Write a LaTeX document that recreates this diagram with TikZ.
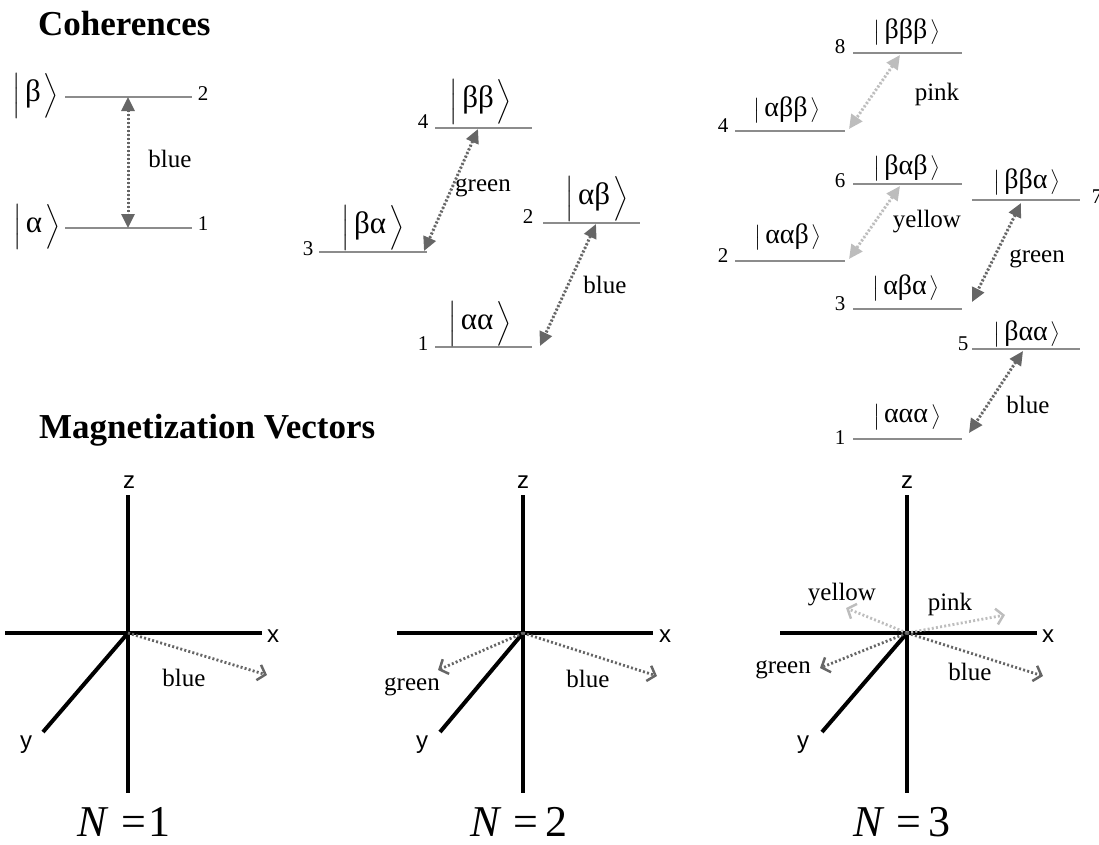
\RequirePackage{fix-cm}
\documentclass[tikz,border=0pt]{standalone}
\usepackage{amsmath}
\usepackage{fontspec}
\setmainfont{Liberation Serif}
\newfontfamily\axfont{Liberation Sans}
\usetikzlibrary{arrows.meta}
\definecolor{levelgray}{HTML}{8C8C8C}
\definecolor{arrdark}{HTML}{666666}
\definecolor{arrlight}{HTML}{BDBDBD}
\newcommand{\ketA}[1]{\mbox{\fontsize{23}{25}\selectfont$\Bigl|$}\hspace{4pt}\mbox{\fontsize{31}{33}\selectfont #1}\hspace{3pt}\mbox{\fontsize{23}{25}\selectfont$\Bigr\rangle$}}
\newcommand{\ketB}[1]{\mbox{\fontsize{22}{24}\selectfont$\bigl|$}\hspace{4pt}\mbox{\fontsize{28}{30}\selectfont #1}\hspace{3pt}\mbox{\fontsize{22}{24}\selectfont$\bigr\rangle$}}
\tikzset{
  lvl/.style={draw=levelgray, line width=1.2pt},
  num/.style={font=\fontsize{21}{24}\selectfont, anchor=base, inner sep=0pt},
  lab/.style={font=\fontsize{25}{28}\selectfont, anchor=base, inner sep=0pt},
  kA/.style={inner sep=0pt},
  kB/.style={inner sep=0pt},
  title/.style={font=\fontsize{35}{40}\selectfont\bfseries, anchor=base west, inner sep=0pt},
  trans/.style={line width=3pt, dash pattern=on 2pt off 2pt,
     {Triangle[length=14pt,width=13pt]}-{Triangle[length=14pt,width=13pt]}},
  dk/.style={draw=arrdark, fill=arrdark},
  lt/.style={draw=arrlight, fill=arrlight},
  axisline/.style={line width=4pt, black},
  axlab/.style={font=\fontsize{24}{26}\axfont, inner sep=0pt},
  vec/.style={line width=2.8pt, dash pattern=on 2pt off 2.2pt,
     -{Straight Barb[length=7pt,width=16pt,line width=2.5pt]}},
  vdk/.style={draw=arrdark},
  vlt/.style={draw=arrlight},
  nlab/.style={font=\fontsize{44}{48}\selectfont, anchor=base, inner sep=0pt}
}
\begin{document}
\begin{tikzpicture}[x=1pt,y=1pt]
\useasboundingbox (0,0) rectangle (1099,-844);
% ---------- titles
\node[title] (t1) at (38,-35) {Coherences};
\node[title] (t2) at (39,-438) {Magnetization Vectors};
% ---------- panel 1 (N=1 levels)
\coordinate (p1L2a) at (65,-97);  \coordinate (p1L2b) at (192,-97);
\coordinate (p1L1a) at (65,-228); \coordinate (p1L1b) at (192,-228);
\draw[lvl] (p1L2a) -- (p1L2b);
\draw[lvl] (p1L1a) -- (p1L1b);
\node[num] (p1n2) at (203,-100) {2};
\node[num] (p1n1) at (203,-230) {1};
\node[kA] (p1kb) at (36,-96) {\ketA{β}};
\node[kA] (p1ka) at (37,-227) {\ketA{α}};
\coordinate (p1t) at (128,-97); \coordinate (p1b) at (128,-228);
\draw[trans,dk] (p1t) -- (p1b);
\node[lab] (p1lab) at (170,-167) {blue};
% ---------- panel 2 (N=2 levels)
\coordinate (p2L4a) at (435,-128); \coordinate (p2L4b) at (532,-128);
\coordinate (p2L3a) at (319,-252); \coordinate (p2L3b) at (427,-252);
\coordinate (p2L2a) at (543,-223); \coordinate (p2L2b) at (640,-223);
\coordinate (p2L1a) at (435,-347); \coordinate (p2L1b) at (532,-347);
\draw[lvl] (p2L4a) -- (p2L4b);
\draw[lvl] (p2L3a) -- (p2L3b);
\draw[lvl] (p2L2a) -- (p2L2b);
\draw[lvl] (p2L1a) -- (p2L1b);
\node[num] (p2n4) at (423,-128) {4};
\node[num] (p2n3) at (308,-255) {3};
\node[num] (p2n2) at (528,-223) {2};
\node[num] (p2n1) at (423,-350) {1};
\node[kA] (p2k4) at (481,-102) {\ketA{ββ}};
\node[kA] (p2k3) at (373,-228) {\ketA{βα}};
\node[kA] (p2k2) at (597,-199) {\ketA{αβ}};
\node[kA] (p2k1) at (480,-324) {\ketA{αα}};
\coordinate (p2g1) at (478,-129); \coordinate (p2g2) at (424,-251);
\coordinate (p2b1) at (596,-224); \coordinate (p2b2) at (540,-346);
\draw[trans,dk] (p2g1) -- (p2g2);
\draw[trans,dk] (p2b1) -- (p2b2);
\node[lab] (p2lg) at (483,-191) {green};
\node[lab] (p2lb) at (605,-293) {blue};
% ---------- panel 3 (N=3 levels)
\coordinate (p3L8a) at (853,-53);  \coordinate (p3L8b) at (962,-53);
\coordinate (p3L4a) at (735,-131); \coordinate (p3L4b) at (845,-131);
\coordinate (p3L6a) at (853,-184); \coordinate (p3L6b) at (962,-184);
\coordinate (p3L7a) at (972,-200); \coordinate (p3L7b) at (1080,-200);
\coordinate (p3L2a) at (735,-261); \coordinate (p3L2b) at (845,-261);
\coordinate (p3L3a) at (853,-309); \coordinate (p3L3b) at (962,-309);
\coordinate (p3L5a) at (972,-349); \coordinate (p3L5b) at (1080,-349);
\coordinate (p3L1a) at (853,-439); \coordinate (p3L1b) at (962,-439);
\foreach \l in {8,4,6,7,2,3,5,1} { \draw[lvl] (p3L\l a) -- (p3L\l b); }
\node[num] (p3n8) at (840,-53) {8};
\node[num] (p3n4) at (723,-132) {4};
\node[num] (p3n6) at (840,-187) {6};
\node[num] (p3n7) at (1097,-203) {7};
\node[num] (p3n2) at (723,-262) {2};
\node[num] (p3n3) at (840,-310) {3};
\node[num] (p3n5) at (963,-350) {5};
\node[num] (p3n1) at (840,-444) {1};
\node[kB] (p3k8) at (907,-32)  {\ketB{βββ}};
\node[kB] (p3k4) at (787,-110) {\ketB{αββ}};
\node[kB] (p3k6) at (907,-168) {\ketB{βαβ}};
\node[kB] (p3k7) at (1027,-182) {\ketB{ββα}};
\node[kB] (p3k2) at (788,-237) {\ketB{ααβ}};
\node[kB] (p3k3) at (906,-288) {\ketB{αβα}};
\node[kB] (p3k5) at (1027,-334) {\ketB{βαα}};
\node[kB] (p3k1) at (907,-417) {\ketB{ααα}};
\coordinate (p3p1) at (900,-55);  \coordinate (p3p2) at (849,-129);
\coordinate (p3y1) at (900,-186); \coordinate (p3y2) at (849,-259);
\coordinate (p3g1) at (1021,-203); \coordinate (p3g2) at (972,-302);
\coordinate (p3b1) at (1023,-351); \coordinate (p3b2) at (969,-433);
\draw[trans,lt] (p3p1) -- (p3p2);
\draw[trans,lt] (p3y1) -- (p3y2);
\draw[trans,dk] (p3g1) -- (p3g2);
\draw[trans,dk] (p3b1) -- (p3b2);
\node[lab] (p3lp) at (937,-100) {pink};
\node[lab] (p3ly) at (927,-227) {yellow};
\node[lab] (p3lg) at (1037,-262) {green};
\node[lab] (p3lb) at (1028,-413) {blue};
% ---------- bottom panel 1
\coordinate (o1) at (128,-633);
\coordinate (z1) at (128,-495); \coordinate (zb1) at (128,-793);
\coordinate (xl1) at (5,-633);  \coordinate (xr1) at (262,-633);
\coordinate (y1) at (43,-732);
\draw[axisline] (z1) -- (zb1);
\draw[axisline] (xl1) -- (xr1);
\draw[axisline] (o1) -- (y1);
\node[axlab] (zl1) at (129,-482) {z};
\node[axlab] (xlab1) at (273,-636) {x};
\node[axlab] (ylab1) at (26,-745) {y};
\coordinate (v1b) at (267,-675);
\draw[vec,vdk] (o1) -- (v1b);
\node[lab] (b1lb) at (184,-686) {blue};
\node[nlab] (N1) at (124,-836) {\textit{N}\;=\hspace{0.05em}1};
% ---------- bottom panel 2
\coordinate (o2) at (523,-633);
\coordinate (z2) at (523,-495); \coordinate (zb2) at (523,-793);
\coordinate (xl2) at (397,-633); \coordinate (xr2) at (653,-633);
\coordinate (y2) at (440,-732);
\draw[axisline] (z2) -- (zb2);
\draw[axisline] (xl2) -- (xr2);
\draw[axisline] (o2) -- (y2);
\node[axlab] (zl2) at (523,-482) {z};
\node[axlab] (xlab2) at (665,-636) {x};
\node[axlab] (ylab2) at (422,-745) {y};
\coordinate (v2g) at (438,-670); \coordinate (v2b) at (657,-676);
\draw[vec,vdk] (o2) -- (v2g);
\draw[vec,vdk] (o2) -- (v2b);
\node[lab] (b2lg) at (412,-690) {green};
\node[lab] (b2lb) at (588,-687) {blue};
\node[nlab] (N2) at (519,-836) {\textit{N}\;=\,2};
% ---------- bottom panel 3
\coordinate (o3) at (907,-633);
\coordinate (z3) at (907,-495); \coordinate (zb3) at (907,-793);
\coordinate (xl3) at (780,-633); \coordinate (xr3) at (1037,-633);
\coordinate (y3) at (822,-732);
\draw[axisline] (z3) -- (zb3);
\draw[axisline] (xl3) -- (xr3);
\draw[axisline] (o3) -- (y3);
\node[axlab] (zl3) at (907,-482) {z};
\node[axlab] (xlab3) at (1048,-636) {x};
\node[axlab] (ylab3) at (803,-745) {y};
\coordinate (v3y) at (846,-608); \coordinate (v3p) at (1005,-615);
\coordinate (v3g) at (820,-668); \coordinate (v3b) at (1043,-676);
\draw[vec,vlt] (o3) -- (v3y);
\draw[vec,vlt] (o3) -- (v3p);
\draw[vec,vdk] (o3) -- (v3g);
\draw[vec,vdk] (o3) -- (v3b);
\node[lab] (b3ly) at (842,-600) {yellow};
\node[lab] (b3lp) at (950,-610) {pink};
\node[lab] (b3lg) at (783,-673) {green};
\node[lab] (b3lb) at (970,-680) {blue};
\node[nlab] (N3) at (902,-836) {\textit{N}\;=\,3};
\end{tikzpicture}
\end{document}
